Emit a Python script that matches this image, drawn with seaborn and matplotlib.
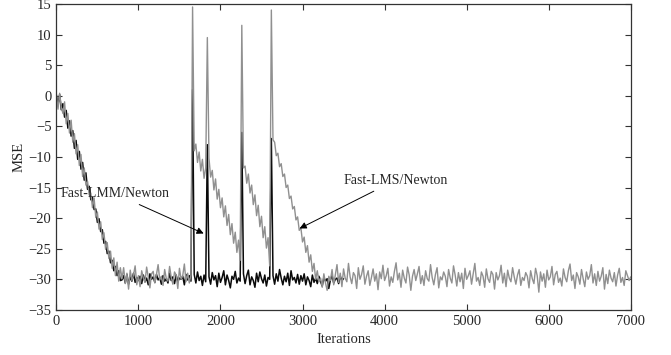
import numpy as np
import pandas as pd
import matplotlib
matplotlib.use("Agg")
import matplotlib.pyplot as plt
import seaborn as sns

# iteration spacing of the sampled learning curves
step = 20

# Fast-LMS/Newton (gray), MSE in dB every 20 iterations, 0..7000
mse_lms = [
    0.3, -2.2, 0.4, -1.9, -2.9, -1.0, -4.6, -2.9, -6.1, -4.0,
    -7.6, -6.2, -9.5, -8.0, -11.4, -9.6, -13.2, -11.8, -14.6, -14.0,
    -16.2, -15.9, -18.3, -16.7, -19.9, -19.0, -21.8, -20.6, -23.5, -22.4,
    -25.1, -24.0, -26.6, -25.4, -28.2, -26.5, -29.4, -27.2, -30.3, -28.1,
    -29.9, -28.1, -30.7, -29.0, -31.6, -28.5, -30.2, -29.3, -27.8, -30.9,
    -29.4, -31.2, -28.6, -29.8, -30.5, -28.0, -29.6, -31.4, -29.1, -28.7,
    -30.6, -29.2, -27.6, -30.1, -29.5, -31.0, -28.4, -29.9, -30.3, -27.9,
    -29.7, -30.8, -28.8, -29.3, -31.5, -28.2, -30.0, -29.4, -27.5, -30.4,
    -29.0, -30.6, -29.3, 14.5, -9.0, -7.9, -10.9, -9.2, -12.3, -10.4,
    -13.5, -11.8, 9.5, -10.2, -13.3, -12.2, -15.4, -13.6, -16.9, -15.3,
    -18.3, -16.7, -19.8, -18.0, -21.2, -19.4, -22.7, -20.9, -24.1, -22.3,
    -25.6, -23.6, -26.9, 11.5, -11.8, -11.5, -14.3, -12.8, -15.9, -14.6,
    -17.8, -16.2, -19.6, -17.9, -21.4, -19.7, -23.2, -21.4, -24.9, -23.2,
    -27.8, 14.0, -7.2, -7.6, -9.8, -9.4, -11.6, -11.1, -13.2, -12.8,
    -15.0, -14.6, -16.8, -16.4, -18.5, -18.1, -20.3, -19.8, -22.0, -21.6,
    -23.9, -23.1, -25.6, -24.5, -27.2, -26.0, -28.7, -27.4, -30.0, -28.6,
    -30.4, -29.8, -31.3, -29.1, -30.6, -31.8, -29.5, -30.2, -28.4, -30.9,
    -29.3, -27.6, -30.5, -29.0, -31.2, -28.3, -29.8, -30.4, -27.4, -29.6,
    -30.7, -28.9, -29.4, -31.5, -28.1, -30.0, -29.2, -27.8, -30.8, -29.5,
    -28.6, -31.0, -29.7, -28.3, -30.3, -29.1, -31.7, -28.8, -29.9, -27.7,
    -30.2, -29.4, -28.2, -31.1, -29.6, -30.5, -28.7, -27.3, -30.1, -29.0,
    -31.3, -28.5, -29.8, -30.6, -28.0, -29.3, -31.8, -29.5, -28.4, -30.2,
    -29.1, -27.9, -30.7, -29.4, -31.0, -28.6, -29.9, -30.3, -27.6, -29.7,
    -30.9, -29.2, -28.1, -31.4, -29.6, -30.1, -28.8, -29.5, -31.2, -28.4,
    -29.8, -30.6, -27.8, -29.3, -31.1, -28.9, -30.4, -29.0, -31.5, -28.2,
    -30.0, -29.4, -28.6, -30.8, -29.1, -27.4, -30.3, -29.7, -31.0, -28.8,
    -29.5, -31.3, -28.3, -29.9, -30.5, -28.7, -29.2, -31.6, -28.9, -30.1,
    -29.4, -27.7, -30.6, -29.0, -31.2, -28.5, -29.8, -30.4, -28.1, -29.6,
    -30.8, -29.3, -28.4, -31.0, -29.7, -30.2, -28.9, -29.5, -31.4, -28.6,
    -29.9, -30.7, -28.2, -29.4, -32.1, -28.8, -30.3, -29.1, -31.3, -28.5,
    -30.1, -29.6, -27.9, -30.9, -29.2, -28.7, -30.5, -29.8, -31.1, -28.3,
    -29.7, -30.4, -28.6, -27.5, -30.2, -29.3, -31.5, -28.9, -29.6, -30.8,
    -28.4, -29.9, -31.2, -28.8, -30.0, -29.4, -27.6, -30.6, -29.1, -31.0,
    -28.7, -30.3, -29.5, -28.1, -31.6, -29.2, -30.7, -28.5, -29.8, -30.4,
    -28.9, -31.1, -29.3, -28.2, -30.5, -29.7, -31.0, -28.6, -29.4, -30.2,
    -29.6,
]

# Fast-LMM/Newton (black), MSE in dB every 20 iterations, 0..3500
mse_lmm = [
    0.1, -1.4, 0.2, -2.3, -1.3, -3.5, -2.4, -5.3, -4.1, -6.6,
    -5.7, -8.6, -7.3, -10.4, -9.1, -12.0, -10.9, -13.8, -12.6, -15.3,
    -14.8, -17.0, -16.6, -18.6, -18.5, -20.7, -20.1, -22.2, -21.9, -24.1,
    -23.8, -25.8, -25.4, -27.3, -26.9, -28.6, -27.9, -29.4, -28.6, -30.2,
    -30.1, -29.4, -30.6, -29.2, -30.8, -29.6, -30.3, -29.0, -30.5, -29.7,
    -30.2, -29.5, -30.7, -29.3, -30.4, -29.8, -30.9, -29.1, -30.0, -29.6,
    -30.5, -29.2, -30.1, -29.7, -30.8, -29.4, -30.3, -29.9, -30.6, -29.0,
    -30.2, -29.6, -30.7, -29.3, -30.4, -29.8, -30.0, -29.5, -30.9, -29.2,
    -30.1, -29.4, -30.3, 1.0, -29.2, -30.6, -28.8, -30.2, -29.5, -31.0,
    -29.3, -30.4, -8.0, -29.6, -30.8, -28.9, -30.1, -29.4, -31.2, -29.0,
    -30.5, -29.7, -28.6, -30.9, -29.3, -30.2, -31.4, -29.5, -30.0, -28.7,
    -30.6, -29.8, -30.3, -6.0, -29.1, -30.7, -29.4, -28.5, -30.9, -29.6,
    -30.2, -31.3, -29.0, -30.4, -28.8, -29.9, -30.6, -29.3, -31.1, -29.7,
    -30.0, -7.0, -29.4, -30.8, -29.1, -30.3, -28.4, -29.8, -30.9, -29.5,
    -30.4, -29.0, -31.0, -28.6, -30.1, -29.7, -30.6, -29.2, -30.8, -29.4,
    -30.3, -29.1, -30.9, -29.6, -30.2, -31.2, -29.3, -30.5, -29.8, -30.7,
    -29.5, -30.4, -31.1, -29.7, -30.3, -29.9, -31.5, -30.1, -29.4, -30.6,
    -30.0, -29.8, -30.7, -29.5, -30.2, -29.9,
]

x_ticks = [0, 1000, 2000, 3000, 4000, 5000, 6000, 7000]
y_ticks = [-35, -30, -25, -20, -15, -10, -5, 0, 5, 10, 15]

df_lms = pd.DataFrame({"Iterations": np.arange(len(mse_lms)) * step, "MSE": mse_lms})
df_lmm = pd.DataFrame({"Iterations": np.arange(len(mse_lmm)) * step, "MSE": mse_lmm})

sns.set_style("ticks")
plt.rcParams["font.family"] = ["Liberation Serif", "DejaVu Serif"]

fig, ax = plt.subplots(figsize=(6.71, 3.55), dpi=100)
fig.subplots_adjust(left=0.084, right=0.940, bottom=0.127, top=0.989)

sns.lineplot(data=df_lmm, x="Iterations", y="MSE", color="#0a0a0a", linewidth=1.1, ax=ax)
sns.lineplot(data=df_lms, x="Iterations", y="MSE", color="#909090", linewidth=1.0, ax=ax)

ax.set_xlim(0, 7000)
ax.set_ylim(-35, 15)
ax.set_xticks(x_ticks)
ax.set_yticks(y_ticks)
ax.tick_params(direction="in", top=True, right=True, length=4, labelsize=10.5, color="#333333")
ax.set_xlabel("Iterations", fontsize=10.5, labelpad=4)
ax.set_ylabel("MSE", fontsize=10.5, labelpad=2)
for s in ax.spines.values():
    s.set_color("#333333")
    s.set_linewidth(0.9)

arrow = dict(arrowstyle="-|>", color="black", lw=0.7, mutation_scale=10)
ax.annotate("Fast-LMM/Newton", xy=(1826, -22.7), xytext=(50, -16.0),
            fontsize=10, ha="left", va="center", arrowprops=arrow)
ax.annotate("Fast-LMS/Newton", xy=(2934, -21.9), xytext=(3500, -13.8),
            fontsize=10, ha="left", va="center", arrowprops=arrow)

plt.savefig("out.png", dpi=100)
